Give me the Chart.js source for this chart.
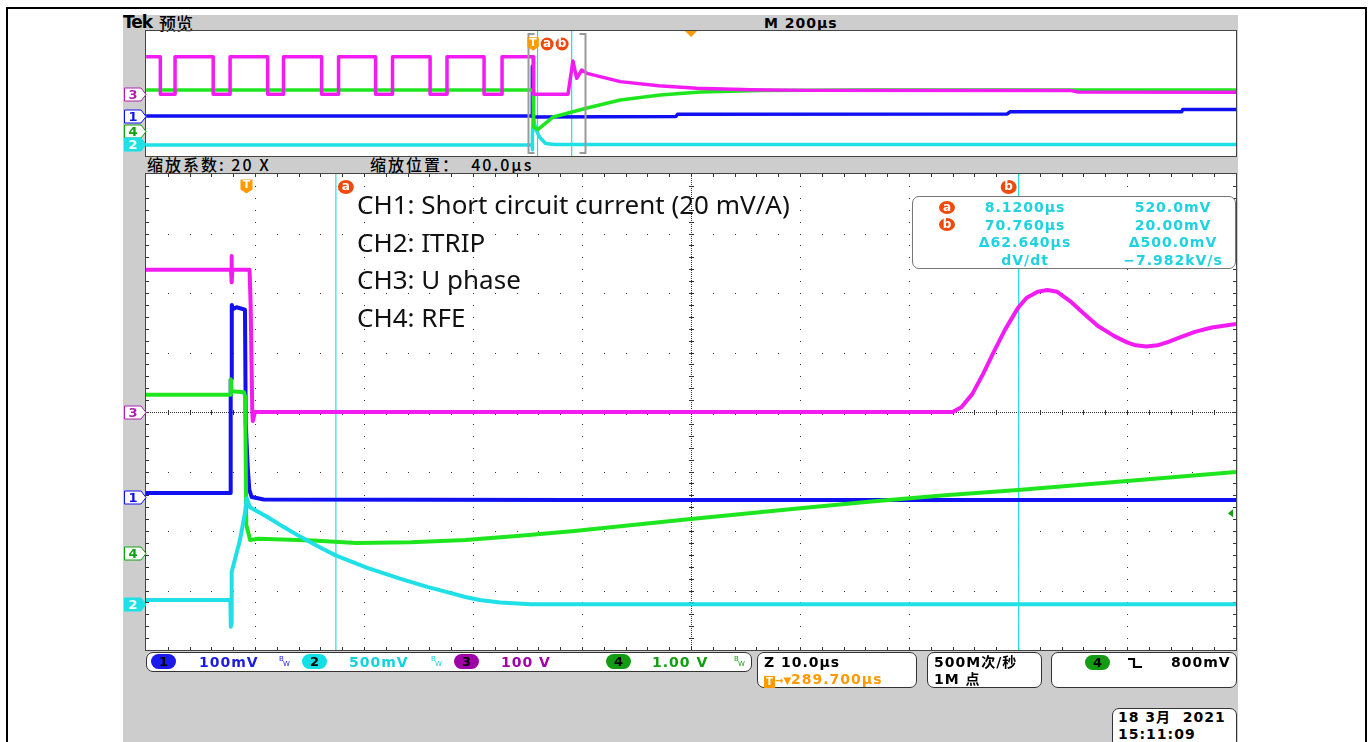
<!DOCTYPE html>
<html><head><meta charset="utf-8">
<script src="https://cdn.jsdelivr.net/npm/chart.js@4.4.0/dist/chart.umd.min.js"></script>
<style>
body{margin:0;width:1370px;height:742px;overflow:hidden;background:#fff;position:relative;}
.abs{position:absolute;}
.t{position:absolute;font-family:"DejaVu Sans","Noto Sans CJK SC",sans-serif;font-weight:bold;font-size:14px;letter-spacing:1px;line-height:16px;white-space:pre;}
.box{position:absolute;background:#fff;border:1px solid #333;border-radius:7px;box-sizing:border-box;}
.badge{position:absolute;width:25px;height:15px;border-radius:8px;font:bold 13px/15px "DejaVu Sans";color:#000;text-align:center;}
.bw{position:absolute;width:12px;height:14px;font-family:"DejaVu Sans";font-size:7px;}
.bw span{position:absolute;}
.circ{position:absolute;width:16px;height:13px;border-radius:50%;background:#f04a0a;color:#fff;font:bold 12px/12px "DejaVu Sans";text-align:center;}
</style></head><body>
<div class="abs" style="left:6px;top:7px;width:1361px;height:800px;border:2px solid #000;box-sizing:border-box;"></div>
<div class="abs" style="left:123px;top:15px;width:1115px;height:727px;background:#cdcdcd;"></div>
<div class="abs" style="left:146px;top:31px;width:1090px;height:125px;background:#fff;"></div>
<div class="abs" style="left:146px;top:174px;width:1090px;height:476px;background:#fff;"></div>

<div class="t" style="left:123px;top:13px;font-size:17px;letter-spacing:-1px;line-height:19px;">Tek</div>
<div class="t" style="left:159px;top:13px;font-family:'Noto Sans CJK SC';font-weight:500;font-size:17px;letter-spacing:0;line-height:19px;">预览</div>
<div class="t" style="left:764px;top:15px;">M 200µs</div>
<div class="t" style="left:147px;top:156px;font-family:'Noto Sans CJK SC','DejaVu Sans';font-weight:500;font-size:16px;letter-spacing:2px;">缩放系数: 20 X</div>
<div class="t" style="left:370px;top:156px;font-family:'Noto Sans CJK SC','DejaVu Sans';font-weight:500;font-size:16px;letter-spacing:2px;">缩放位置：  40.0µs</div>

<canvas id="ov" class="abs" style="left:120px;top:27px" width="1120" height="133"></canvas>
<canvas id="mn" class="abs" style="left:120px;top:170px" width="1120" height="485"></canvas>

<div class="abs" style="left:357px;top:186px;font-family:'Noto Sans',sans-serif;font-size:26px;line-height:37.5px;color:#111;white-space:pre;">CH1: Short circuit current (20 mV/A)
CH2: ITRIP
CH3: U phase
CH4: RFE</div>

<div class="box" style="left:912px;top:196px;width:324px;height:73px;border:1.5px solid #777;"></div>
<div class="circ" style="left:939px;top:201px;">a</div>
<div class="circ" style="left:939px;top:218px;">b</div>
<div id="ro"></div>

<div class="box" style="left:146px;top:652px;width:606px;height:20px;"></div>
<div class="box" style="left:757px;top:652px;width:160px;height:36px;"></div>
<div class="box" style="left:927px;top:652px;width:115px;height:36px;"></div>
<div class="box" style="left:1051px;top:652px;width:186px;height:36px;"></div>
<div class="box" style="left:1112px;top:708px;width:125px;height:40px;"></div>

<div class="badge" style="left:151px;top:654px;background:#1a1aee;">1</div>
<div class="t" style="left:199px;top:654px;color:#1c1ce0;">100mV</div>
<div class="bw" style="left:279px;top:655px;color:#1c1ce0;"><span style="left:0;top:0">B</span><span style="left:4px;top:5px">W</span></div>
<div class="badge" style="left:302px;top:654px;background:#10e0e6;">2</div>
<div class="t" style="left:349px;top:654px;color:#10d4dc;">500mV</div>
<div class="bw" style="left:431px;top:655px;color:#10d4dc;"><span style="left:0;top:0">B</span><span style="left:4px;top:5px">W</span></div>
<div class="badge" style="left:454px;top:654px;background:#a000a8;">3</div>
<div class="t" style="left:501px;top:654px;color:#a000a8;">100 V</div>
<div class="badge" style="left:606px;top:654px;background:#139c13;">4</div>
<div class="t" style="left:652px;top:654px;color:#10a010;">1.00 V</div>
<div class="bw" style="left:734px;top:655px;color:#10a010;"><span style="left:0;top:0">B</span><span style="left:4px;top:5px">W</span></div>

<div class="t" style="left:764px;top:654px;">Z 10.0µs</div>
<div class="t" style="left:764px;top:671px;color:#ff9900;"><span style="display:inline-block;width:11px;height:12px;background:#ff9900;color:#fff;font-size:10px;line-height:12px;text-align:center;letter-spacing:0;vertical-align:-1px;">T</span><span style="font-size:10px;letter-spacing:0">→▼</span>289.700µs</div>
<div class="t" style="left:934px;top:654px;">500M次/秒</div>
<div class="t" style="left:934px;top:671px;">1M 点</div>
<div class="badge" style="left:1085px;top:655px;background:#139c13;">4</div>
<svg class="abs" style="left:1127px;top:656px" width="18" height="14"><path d="M1 3 H7 V11 H15" fill="none" stroke="#000" stroke-width="2.2"/></svg>
<div class="t" style="left:1171px;top:654px;">800mV</div>
<div class="t" style="left:1118px;top:709px;">18 3月  2021</div>
<div class="t" style="left:1118px;top:726px;">15:11:09</div>

<script>
// ---------- data (time in µs, amplitude in screen divisions) ----------
const mainTimeRange = [-9.3, 90.7];        // zoom window, 10 µs/div
const overviewTimeRange = [-710.3, 1289.7]; // record, 200 µs/div
const cursorTimes = [8.12, 70.76];
const channelGround = [-1.43, -3.23, 0.0, -2.37]; // CH1..CH4 marker levels
const trigLevelDiv = -1.70;
const readoutCol1 = ["8.1200µs", "70.760µs", "Δ62.640µs", "dV/dt"];
const readoutCol2 = ["520.0mV", "20.00mV", "Δ500.0mV", "−7.982kV/s"];

const ch1Main = [[-9.3,-1.36],[-1.55,-1.36],[-1.53,0.54],[-1.45,0.56],[-1.43,1.8],[-1.3,1.73],[-1.0,1.76],[-0.6,1.74],[-0.22,1.72],[-0.15,-0.18],[0.03,-0.92],[0.18,-1.31],[0.4,-1.43],[1.5,-1.47],[30,-1.48],[90.7,-1.48]];
const ch2Main = [[-9.3,-3.16],[-1.56,-3.16],[-1.52,-3.61],[-1.46,-3.55],[-1.44,-2.69],[-0.68,-2.15],[-0.22,-1.70],[-0.06,-1.45],[0.24,-1.6],[1.8,-1.76],[3.3,-1.93],[4.8,-2.09],[6.5,-2.26],[8.1,-2.41],[11,-2.62],[14,-2.8],[16.5,-2.94],[18.6,-3.04],[20,-3.11],[21.3,-3.16],[23.2,-3.2],[26,-3.23],[90.7,-3.23]];
const ch3Main = [[-9.3,2.39],[-1.5,2.39],[-1.46,2.62],[-1.42,2.18],[-1.38,2.39],[0.2,2.39],[0.3,1.8],[0.45,0.0],[0.5,-0.15],[0.7,0.0],[64.7,0.0],[65.5,0.08],[66.5,0.3],[67.5,0.64],[68.5,1.02],[69.5,1.38],[70.7,1.75],[71.5,1.92],[72.5,2.02],[73.4,2.05],[74.3,2.02],[75.5,1.86],[76.7,1.66],[78,1.45],[79.5,1.28],[80.7,1.17],[81.5,1.12],[82.5,1.1],[83.5,1.12],[84.5,1.18],[85.8,1.27],[87,1.35],[88.5,1.42],[90.7,1.48]];
const ch4Main = [[-9.3,0.29],[-1.56,0.29],[-1.52,0.55],[-1.45,0.35],[-0.3,0.33],[-0.2,0.25],[-0.1,-1.9],[0.09,-2.03],[0.24,-2.15],[1,-2.13],[6,-2.16],[10,-2.2],[15,-2.19],[20,-2.15],[25,-2.08],[30,-2.0],[40,-1.81],[50,-1.63],[57,-1.51],[64,-1.4],[70.7,-1.31],[80.7,-1.16],[90.7,-1.01]];

const ch1Over = [[-710,-1.44],[-1.5,-1.44],[-1.4,1.75],[0,1.7],[0.3,-1.5],[262,-1.47],[265,-1.33],[870,-1.31],[875,-1.17],[1190,-1.17],[1192,-1.02],[1290,-1.02]];
const ch2Over = [[-710,-3.3],[-1.5,-3.3],[-1.4,-3.6],[-1.3,-2.7],[0,-1.5],[5,-2.3],[12,-2.8],[23,-3.2],[40,-3.27],[1290,-3.27]];
const ch3Over = [[-710,2.35],[-684,2.35],[-684,-0.05],[-657,-0.05],[-657,2.35],[-587,2.35],[-587,-0.05],[-556,-0.05],[-556,2.35],[-487,2.35],[-487,-0.05],[-458,-0.05],[-458,2.35],[-388,2.35],[-388,-0.05],[-357,-0.05],[-357,2.35],[-289,2.35],[-289,-0.05],[-258,-0.05],[-258,2.35],[-189,2.35],[-189,-0.05],[-158,-0.05],[-158,2.35],[-90,2.35],[-90,-0.05],[-57,-0.05],[-57,2.35],[0,2.35],[1,-0.05],[64,-0.05],[73,2.08],[80,0.97],[89,1.5],[99,1.29],[160,0.76],[230,0.5],[300,0.33],[400,0.24],[500,0.2],[985,0.2],[1000,0.1],[1290,0.08]];
const ch4Over = [[-710,0.22],[0,0.22],[1,-2.15],[9,-2.3],[37,-1.5],[99,-0.93],[160,-0.42],[233,-0.1],[307,0.1],[417,0.19],[600,0.22],[1290,0.22]];

// ---------- styles ----------
const COL = {ch1:'#1010f0', ch2:'#1fe0e6', ch3:'#f21bf2', ch4:'#1ee61e', cursor:'#22dde6'};

(function(){
  const ro = document.getElementById('ro');
  const rows = [199, 216.5, 234, 251.5];
  rows.forEach((top,i)=>{
    [[readoutCol1[i],1025],[readoutCol2[i],1173]].forEach(([txt,cx])=>{
      const d=document.createElement('div'); d.className='t';
      d.style.cssText=`left:${cx-80}px;top:${top}px;width:160px;text-align:center;color:#1ed2e2;`;
      d.textContent=txt; ro.appendChild(d);
    });
  });
})();

function ds(arr, color, w){
  return {data: arr.map(p=>({x:p[0],y:p[1]})), borderColor:color, borderWidth:w, pointRadius:0, tension:0, fill:false, borderJoinStyle:'round'};
}
function cursorDs(t){ return ds([[t,-4],[t,4]], COL.cursor, 1.2); }

function chanMarker(ctx, tipX, y, label, color, filled){
  const w=22, h=13, l=tipX-w;
  ctx.beginPath();
  ctx.moveTo(l+0.5, y-h/2); ctx.lineTo(tipX-5, y-h/2); ctx.lineTo(tipX, y); ctx.lineTo(tipX-5, y+h/2); ctx.lineTo(l+0.5, y+h/2); ctx.closePath();
  ctx.fillStyle = filled?color:'#fff'; ctx.fill();
  ctx.lineWidth=1; ctx.strokeStyle=color; ctx.stroke();
  ctx.fillStyle = filled?'#fff':color; ctx.font='bold 13px "DejaVu Sans"'; ctx.textAlign='center'; ctx.textBaseline='middle';
  ctx.fillText(label, l+9, y+1);
}
function tMarker(ctx,x,y,s){
  ctx.fillStyle='#ff9a00';
  ctx.beginPath();
  ctx.moveTo(x-6*s,y-7*s); ctx.lineTo(x+6*s,y-7*s); ctx.lineTo(x+6*s,y+3*s); ctx.lineTo(x,y+7*s); ctx.lineTo(x-6*s,y+3*s); ctx.closePath(); ctx.fill();
  ctx.fillStyle='#fff'; ctx.font='bold 11px "DejaVu Sans"'; ctx.textAlign='center'; ctx.textBaseline='middle'; ctx.fillText('T',x,y-1);
}
function cMarker(ctx,x,y,ch,rx,ry){
  ctx.fillStyle='#f04a0a'; ctx.beginPath(); ctx.ellipse(x,y,rx,ry,0,0,Math.PI*2); ctx.fill();
  ctx.fillStyle='#fff'; ctx.font='bold 12px "DejaVu Sans"'; ctx.textAlign='center'; ctx.textBaseline='middle'; ctx.fillText(ch,x,y);
}
const chanColors=[COL.ch1,COL.ch2,'#b020b0','#10a010'];
function drawChannelMarkers(chart){
  const ctx=chart.ctx, a=chart.chartArea, ys=chart.scales.y;
  [2,0,3,1].forEach(i=>{
    chanMarker(ctx, a.left, Math.round(ys.getPixelForValue(channelGround[i]))+0.5, String(i+1), chanColors[i], i===1);
  });
}
function drawBorder(chart){
  const ctx=chart.ctx, a=chart.chartArea;
  ctx.save(); ctx.strokeStyle='#444'; ctx.lineWidth=1;
  ctx.strokeRect(a.left-0.5,a.top-0.5,a.width+1,a.height+1); ctx.restore();
}

const mainDeco = {
  id:'mainDeco',
  beforeDatasetsDraw(chart){
    const {ctx, chartArea:a} = chart;
    ctx.save(); ctx.fillStyle='#333';
    const dx=a.width/10, dy=a.height/8;
    for(let i=1;i<10;i++){ if(i===5) continue; const x=Math.round(a.left+i*dx); for(let j=1;j<40;j++){ ctx.fillRect(x,Math.round(a.top+j*dy/5),1,1);} }
    for(let j=1;j<8;j++){ if(j===4) continue; const y=Math.round(a.top+j*dy); for(let i=1;i<50;i++){ ctx.fillRect(Math.round(a.left+i*dx/5),y,1,1);} }
    const cx=Math.round(a.left+5*dx), cy=Math.round(a.top+4*dy);
    for(let y=a.top;y<a.bottom;y+=2) ctx.fillRect(cx,Math.round(y),1,1);
    for(let x=a.left;x<a.right;x+=2) ctx.fillRect(Math.round(x),cy,1,1);
    for(let j=1;j<40;j++){ const y=Math.round(a.top+j*dy/5); ctx.fillRect(cx-2,y,5,1); ctx.fillRect(a.left,y,3,1); ctx.fillRect(a.right-3,y,3,1);}
    for(let i=1;i<50;i++){ const x=Math.round(a.left+i*dx/5); ctx.fillRect(x,cy-2,1,5); ctx.fillRect(x,a.top,1,3); ctx.fillRect(x,a.bottom-3,1,3);}
    ctx.restore();
  },
  afterDatasetsDraw(chart){
    const {ctx, chartArea:a} = chart; const xs=chart.scales.x, ys=chart.scales.y;
    ctx.save();
    drawBorder(chart);
    drawChannelMarkers(chart);
    tMarker(ctx, Math.round(xs.getPixelForValue(0))-0.5, a.top+12.5, 1);
    cMarker(ctx, xs.getPixelForValue(cursorTimes[0])+10, a.top+13, 'a', 8, 7);
    cMarker(ctx, xs.getPixelForValue(cursorTimes[1])-10, a.top+13, 'b', 8, 7);
    const ty=ys.getPixelForValue(trigLevelDiv);
    ctx.fillStyle='#10a010'; ctx.beginPath(); ctx.moveTo(a.right-8,ty); ctx.lineTo(a.right-3,ty-4); ctx.lineTo(a.right-3,ty+4); ctx.closePath(); ctx.fill();
    ctx.restore();
  }
};

const ovDeco = {
  id:'ovDeco',
  afterDatasetsDraw(chart){
    const {ctx, chartArea:a} = chart; const xs=chart.scales.x;
    ctx.save();
    drawBorder(chart);
    drawChannelMarkers(chart);
    const bl=Math.round(xs.getPixelForValue(mainTimeRange[0]))+0.5, br=Math.round(xs.getPixelForValue(mainTimeRange[1]))+2.5;
    ctx.strokeStyle='#9a9a9a'; ctx.lineWidth=2;
    ctx.beginPath(); ctx.moveTo(bl+6,a.top+3); ctx.lineTo(bl,a.top+3); ctx.lineTo(bl,a.bottom-3); ctx.lineTo(bl+6,a.bottom-3);
    ctx.moveTo(br-6,a.top+3); ctx.lineTo(br,a.top+3); ctx.lineTo(br,a.bottom-3); ctx.lineTo(br-6,a.bottom-3); ctx.stroke();
    const cx=a.left+a.width/2;
    ctx.fillStyle='#ff9a00'; ctx.beginPath(); ctx.moveTo(cx-6,a.top); ctx.lineTo(cx+6,a.top); ctx.lineTo(cx,a.top+6); ctx.closePath(); ctx.fill();
    tMarker(ctx, xs.getPixelForValue(0), a.top+13, 0.95);
    cMarker(ctx, xs.getPixelForValue(0)+14, a.top+13, 'a', 6.5, 6.5);
    cMarker(ctx, xs.getPixelForValue(0)+29, a.top+13, 'b', 6.5, 6.5);
    ctx.restore();
  }
};

function baseOpts(range, pad){
  return {
    responsive:false, animation:false, devicePixelRatio:1, events:[],
    layout:{padding:pad},
    plugins:{legend:{display:false}, tooltip:{enabled:false}},
    scales:{x:{type:'linear',min:range[0],max:range[1],display:false}, y:{type:'linear',min:-4,max:4,display:false}}
  };
}

new Chart(document.getElementById('mn'), {
  type:'line',
  data:{datasets:[ds(ch3Main,COL.ch3,4), ds(ch2Main,COL.ch2,4), ds(ch4Main,COL.ch4,4), ds(ch1Main,COL.ch1,4), cursorDs(cursorTimes[0]), cursorDs(cursorTimes[1])]},
  options: baseOpts(mainTimeRange, {left:26,right:4,top:4,bottom:5}),
  plugins:[mainDeco]
});
new Chart(document.getElementById('ov'), {
  type:'line',
  data:{datasets:[ds(ch3Over,COL.ch3,3.5), ds(ch4Over,COL.ch4,3.5), ds(ch1Over,COL.ch1,3.5), ds(ch2Over,COL.ch2,3.5), cursorDs(cursorTimes[0]), cursorDs(cursorTimes[1])]},
  options: baseOpts(overviewTimeRange, {left:26,right:4,top:4,bottom:4}),
  plugins:[ovDeco]
});
</script>
</body></html>
